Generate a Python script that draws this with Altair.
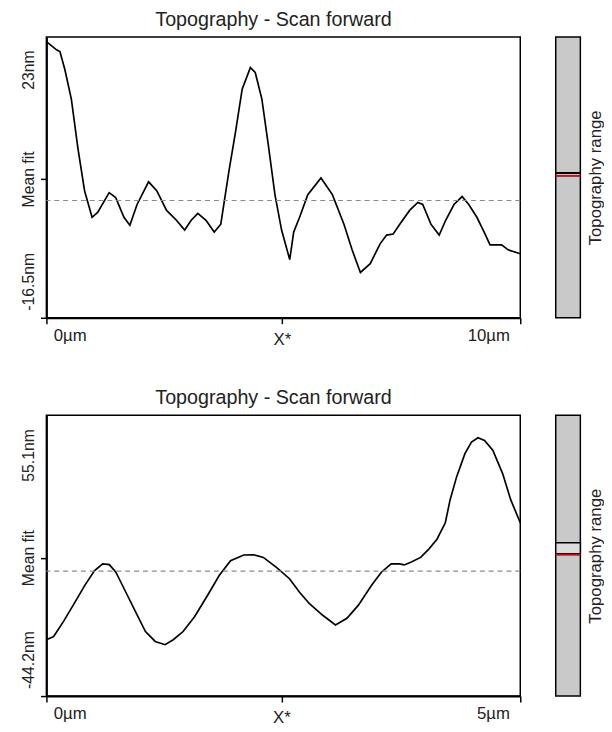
import altair as alt
import pandas as pd

FONT = "Liberation Sans"
TITLE = "Topography - Scan forward"

# ---------- top profile (x in µm, height in nm) ----------
top_x = [0.0, 0.214, 0.285, 0.389, 0.526, 0.665, 0.805, 0.963, 1.081, 1.324, 1.462, 1.636,
         1.761, 1.913, 2.156, 2.328, 2.536, 2.744, 2.917, 3.056, 3.195, 3.368, 3.541, 3.680,
         3.852, 3.992, 4.131, 4.304, 4.407, 4.547, 4.684, 4.823, 4.963, 5.135, 5.218, 5.343,
         5.516, 5.794, 6.035, 6.279, 6.451, 6.626, 6.834, 7.042, 7.179, 7.318, 7.457, 7.665,
         7.838, 7.942, 8.114, 8.289, 8.426, 8.601, 8.773, 8.913, 9.085, 9.258, 9.362, 9.605,
         9.744, 10.0]
top_y = [22.35, 21.2, 20.96, 18.43, 14.27, 7.34, 1.38, -2.36, -1.67, 1.10, 0.41, -2.36,
         -3.47, -0.56, 2.63, 1.38, -1.39, -2.78, -4.16, -2.78, -1.81, -2.78, -4.44, -3.33,
         4.15, 9.70, 15.66, 18.70, 18.01, 14.27, 7.76, 0.83, -4.16, -8.32, -4.44, -2.36,
         0.83, 3.18, 0.83, -3.33, -6.94, -10.12, -8.88, -6.10, -4.86, -4.72, -3.33, -1.39,
         -0.28, -0.56, -3.33, -4.86, -2.78, -0.56, 0.55, -0.56, -2.36, -4.72, -6.24, -6.24,
         -6.94, -7.49]

# ---------- bottom profile ----------
bot_x = [0.0, 0.076, 0.179, 0.283, 0.405, 0.508, 0.594, 0.664, 0.733, 0.837, 0.941, 1.045,
         1.148, 1.252, 1.338, 1.442, 1.563, 1.701, 1.823, 1.943, 2.082, 2.186, 2.289, 2.427,
         2.565, 2.669, 2.773, 2.912, 3.050, 3.171, 3.292, 3.431, 3.534, 3.638, 3.724, 3.776,
         3.845, 3.949, 4.035, 4.121, 4.209, 4.260, 4.329, 4.416, 4.485, 4.554, 4.623, 4.710,
         4.813, 4.899, 5.0]
bot_y = [-24.27, -23.12, -17.87, -12.04, -5.04, 0.20, 2.54, 2.30, -0.39, -7.39, -14.38, -21.37,
         -24.87, -26.02, -24.27, -21.37, -16.13, -8.54, -1.55, 3.70, 5.69, 5.79, 4.85, 1.35,
         -2.70, -7.39, -11.44, -15.53, -19.03, -16.69, -12.04, -5.04, -0.39, 2.54, 2.54, 2.19,
         3.10, 4.85, 7.79, 11.28, 17.09, 25.27, 33.41, 41.56, 45.65, 47.15, 46.24, 42.75,
         34.57, 25.27, 17.09]

# axis settings per panel
top_range = [-16.5, 23.0]
bot_range = [-44.2, 55.1]
top_labels = {"hi_pos": 18.43, "lo_pos": -11.37, "mean": 3.04, "hi": "23nm", "lo": "-16.5nm"}
bot_labels = {"hi_pos": 41.1, "lo_pos": -31.3, "mean": 4.75, "hi": "55.1nm", "lo": "-44.2nm"}
top_xaxis = {"max": 10, "star": 4.97, "end": "10µm"}
bot_xaxis = {"max": 5, "star": 2.48, "end": "5µm"}
mean_fit = 0.0
top_marker = {"box": None, "black": 3.87, "red": 3.46}
bot_marker = {"box": [6.14, 10.0], "black": None, "red": 5.79}

W, H = 481, 285


def row(xs, ys, yr, lab, xa, marker):
    df = pd.DataFrame({"x": xs, "y": ys})
    yscale = alt.Scale(domain=yr, nice=False, zero=False)
    xscale = alt.Scale(domain=[0, xa["max"]], nice=False, zero=False)
    xm = xa["max"]
    xaxis = alt.Axis(
        values=[0, xa["star"], xm],
        labelExpr=f"datum.value == 0 ? '0µm' : datum.value == {xm} ? '{xa['end']}' : 'X*'",
        title=None, grid=False, tickSize=6, tickColor="black", tickWidth=1.5,
        domainColor="black", domainWidth=2,
        labelFont=FONT, labelFontSize=17, labelColor="#222", labelBaseline="top",
        labelAlign={"condition": [{"test": "datum.value == 0", "value": "left"},
                                  {"test": f"datum.value == {xm}", "value": "right"}],
                    "value": "center"},
        labelOffset={"condition": [{"test": "datum.value == 0", "value": 7},
                                   {"test": f"datum.value == {xm}", "value": -11}],
                     "value": 0},
        labelPadding={"condition": {"test": f"datum.value == {xa['star']}", "value": 8},
                      "value": 4},
    )
    hp, lp, mp = lab["hi_pos"], lab["lo_pos"], lab["mean"]
    yaxis = alt.Axis(
        values=[yr[0], mp, hp, lp],
        labelExpr=(f"datum.value == {hp} ? '{lab['hi']}' : datum.value == {lp} ? '{lab['lo']}'"
                   f" : datum.value == {mp} ? 'Mean fit' : ''"),
        title=None, grid=False, tickSize=6, tickWidth=1.5,
        tickColor={"condition": {"test": f"datum.value == {hp} || datum.value == {lp}",
                                 "value": "transparent"}, "value": "black"},
        domainColor="black", domainWidth=2,
        labelFont=FONT, labelFontSize=16, labelColor="#222",
        labelAngle=270, labelAlign="center", labelBaseline="bottom", labelPadding=4,
    )
    line = alt.Chart(df).mark_line(color="black", strokeWidth=1.7).encode(
        x=alt.X("x:Q", scale=xscale, axis=xaxis),
        y=alt.Y("y:Q", scale=yscale, axis=yaxis),
    )
    mean_rule = alt.Chart(pd.DataFrame({"y": [mean_fit]})).mark_rule(
        color="#8a8a8a", strokeDash=[5, 4], strokeWidth=1.2
    ).encode(y=alt.Y("y:Q", scale=yscale))
    plot = alt.layer(line, mean_rule).properties(
        width=W, height=H,
        title=alt.TitleParams(TITLE, font=FONT, fontSize=20, fontWeight="normal",
                              color="#222", dx=-10, offset=7, baseline="top",
                              frame="group"),
        view=alt.ViewBackground(stroke="black", strokeWidth=1.5),
    )

    # side range bar
    bar_df = pd.DataFrame({"x0": [0], "x1": [1], "y0": [yr[0]], "y1": [yr[1]]})
    bxs = alt.Scale(domain=[0, 1], nice=False, zero=False)
    bar = alt.Chart(bar_df).mark_rect(fill="#c9c9c9", stroke="black", strokeWidth=1.5).encode(
        x=alt.X("x0:Q", scale=bxs, axis=None), x2="x1",
        y=alt.Y("y0:Q", scale=yscale,
                axis=alt.Axis(orient="right", title="Topography range", labels=False,
                              ticks=False, domain=False, grid=False, titleFont=FONT,
                              titleFontSize=17, titleFontWeight="normal", titleColor="#222",
                              titleAngle=270, titleBaseline="top", titlePadding=7)),
        y2="y1",
    )
    layers = [bar]
    if marker["box"]:
        box_df = pd.DataFrame({"x0": [0], "x1": [1], "y0": [marker["box"][0]], "y1": [marker["box"][1]]})
        layers.append(alt.Chart(box_df).mark_rect(fill="#dcdcdc", stroke="black", strokeWidth=1.5).encode(
            x=alt.X("x0:Q", scale=bxs, axis=None), x2="x1",
            y=alt.Y("y0:Q", scale=yscale), y2="y1"))
    if marker["black"] is not None:
        layers.append(alt.Chart(pd.DataFrame({"x0": [0], "x1": [1], "y": [marker["black"]]})).mark_rule(
            color="black", strokeWidth=2).encode(
            x=alt.X("x0:Q", scale=bxs, axis=None), x2="x1", y=alt.Y("y:Q", scale=yscale)))
    layers.append(alt.Chart(pd.DataFrame({"x0": [0], "x1": [1], "y": [marker["red"]]})).mark_rule(
        color="#c0141c", strokeWidth=2).encode(
        x=alt.X("x0:Q", scale=bxs, axis=None), x2="x1", y=alt.Y("y:Q", scale=yscale)))
    side = alt.layer(*layers).properties(
        width=25, height=H, view=alt.ViewBackground(stroke="transparent"))

    return alt.hconcat(plot, side, spacing=29).resolve_scale(y="independent")


top = row(top_x, top_y, top_range, top_labels, top_xaxis, top_marker)
bottom = row(bot_x, bot_y, bot_range, bot_labels, bot_xaxis, bot_marker)

chart = alt.vconcat(top, bottom, spacing=40).properties(
    padding={"left": 12, "top": -4, "right": 0, "bottom": 0},
    background="white",
)

chart.save("out.html", embed_options={"renderer": "svg", "actions": False})
